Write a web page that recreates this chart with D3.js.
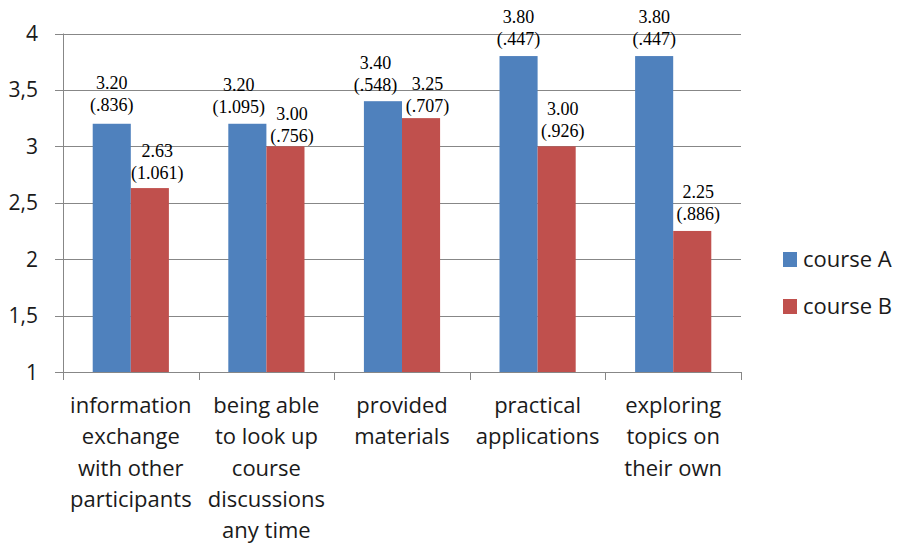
<!DOCTYPE html>
<html>
<head>
<meta charset="utf-8">
<script src="https://cdn.jsdelivr.net/npm/d3@7"></script>
<style>
  html, body { margin: 0; padding: 0; background: #fff; }
  svg { display: block; }
</style>
</head>
<body>
<svg id="chart" width="899" height="543"></svg>
<script>
// Category labels (multi-line) along the x axis
const categories = [
  ["information", "exchange", "with other", "participants"],
  ["being able", "to look up", "course", "discussions", "any time"],
  ["provided", "materials"],
  ["practical", "applications"],
  ["exploring", "topics on", "their own"]
];
const seriesNames = ["course A", "course B"];
const seriesColors = ["#4F81BD", "#C0504D"];

// Mean scores and standard deviations per course
const courseA = [3.20, 3.20, 3.40, 3.80, 3.80];
const courseB = [2.63, 3.00, 3.25, 3.00, 2.25];
const sdA = [".836", "1.095", ".548", ".447", ".447"];
const sdB = ["1.061", ".756", ".707", ".926", ".886"];

// Y axis ticks
const yTicks = [1, 1.5, 2, 2.5, 3, 3.5, 4];
const yTickLabels = ["1", "1,5", "2", "2,5", "3", "3,5", "4"];

// Hand-placed label nudges (px): horizontal shift and gap above bar top
const labelShiftX = [[0, -8.5, -7.5, 0, 0], [7.5, 6.5, 6.5, 6, 6]];
const labelGap = [[13, 10.5, 10.5, 11, 11], [9.5, 4.5, 6.5, 9.5, 11]];

const svg = d3.select("#chart");
const plotLeft = 63, plotRight = 741, plotTop = 33.5, plotBottom = 372;
const gridColor = "#878787";
const textColor = "#1a1a1a";
const sansFont = "'Open Sans', sans-serif";
const serifFont = "'Liberation Serif', 'Times New Roman', serif";

const x = d3.scaleBand().domain(d3.range(categories.length)).range([plotLeft, plotRight]).paddingInner(0).paddingOuter(0);
const xs = d3.scaleBand().domain([0, 1]).range([0, x.bandwidth()]).paddingInner(0).paddingOuter(0.78);
const y = d3.scaleLinear().domain([1, 4]).range([plotBottom, plotTop]);

// Horizontal gridlines with outward ticks on the value axis
svg.append("g").selectAll("line").data(yTicks).join("line")
  .attr("x1", plotLeft - 8).attr("x2", plotRight)
  .attr("y1", d => Math.round(y(d)) + 0.5).attr("y2", d => Math.round(y(d)) + 0.5)
  .attr("stroke", gridColor).attr("stroke-width", 1);

// Value axis line
svg.append("line")
  .attr("x1", plotLeft + 0.5).attr("x2", plotLeft + 0.5)
  .attr("y1", y(4)).attr("y2", y(1))
  .attr("stroke", gridColor);

// Value axis labels
svg.append("g").selectAll("text").data(yTicks).join("text")
  .attr("x", 38).attr("y", d => y(d) + 7.5)
  .attr("text-anchor", "end")
  .attr("font-family", sansFont).attr("font-size", 21)
  .attr("fill", textColor)
  .text((d, i) => yTickLabels[i]);

// Category boundary ticks
const boundaries = d3.range(categories.length + 1).map(i => i < categories.length ? x(i) : x(categories.length - 1) + x.bandwidth());
svg.append("g").selectAll("line").data(boundaries).join("line")
  .attr("x1", d => Math.round(d) + 0.5).attr("x2", d => Math.round(d) + 0.5)
  .attr("y1", plotBottom).attr("y2", plotBottom + 8)
  .attr("stroke", gridColor);

// Bars
const series = [courseA, courseB];
const sds = [sdA, sdB];
series.forEach((vals, s) => {
  svg.append("g").selectAll("rect").data(vals).join("rect")
    .attr("x", (d, i) => x(i) + xs(s))
    .attr("width", xs.bandwidth())
    .attr("y", d => y(d))
    .attr("height", d => y(1) - y(d))
    .attr("fill", seriesColors[s]);
});

// Value labels: mean and (SD)
series.forEach((vals, s) => {
  const g = svg.append("g");
  vals.forEach((v, i) => {
    const cx = x(i) + xs(s) + xs.bandwidth() / 2 + labelShiftX[s][i];
    const base = y(v) - labelGap[s][i];
    g.append("text")
      .attr("x", cx).attr("y", base - 22)
      .attr("text-anchor", "middle")
      .attr("font-family", serifFont).attr("font-size", 18)
      .attr("fill", "#000")
      .text(v.toFixed(2));
    g.append("text")
      .attr("x", cx).attr("y", base)
      .attr("text-anchor", "middle")
      .attr("font-family", serifFont).attr("font-size", 18)
      .attr("fill", "#000")
      .text("(" + sds[s][i] + ")");
  });
});

// Category labels
categories.forEach((lines, i) => {
  const t = svg.append("text")
    .attr("text-anchor", "middle")
    .attr("font-family", sansFont).attr("font-size", 22)
    .attr("fill", textColor);
  lines.forEach((ln, k) => {
    t.append("tspan")
      .attr("x", x(i) + x.bandwidth() / 2)
      .attr("y", 413 + k * 31.3)
      .text(ln);
  });
});

// Legend
const legend = svg.append("g");
seriesNames.forEach((name, s) => {
  const ly = 252 + s * 47;
  legend.append("rect")
    .attr("x", 783).attr("y", ly).attr("width", 14).attr("height", 15)
    .attr("fill", seriesColors[s]);
  legend.append("text")
    .attr("x", 803).attr("y", ly + 15)
    .attr("font-family", sansFont).attr("font-size", 22)
    .attr("fill", textColor)
    .text(name);
});
</script>
</body>
</html>
